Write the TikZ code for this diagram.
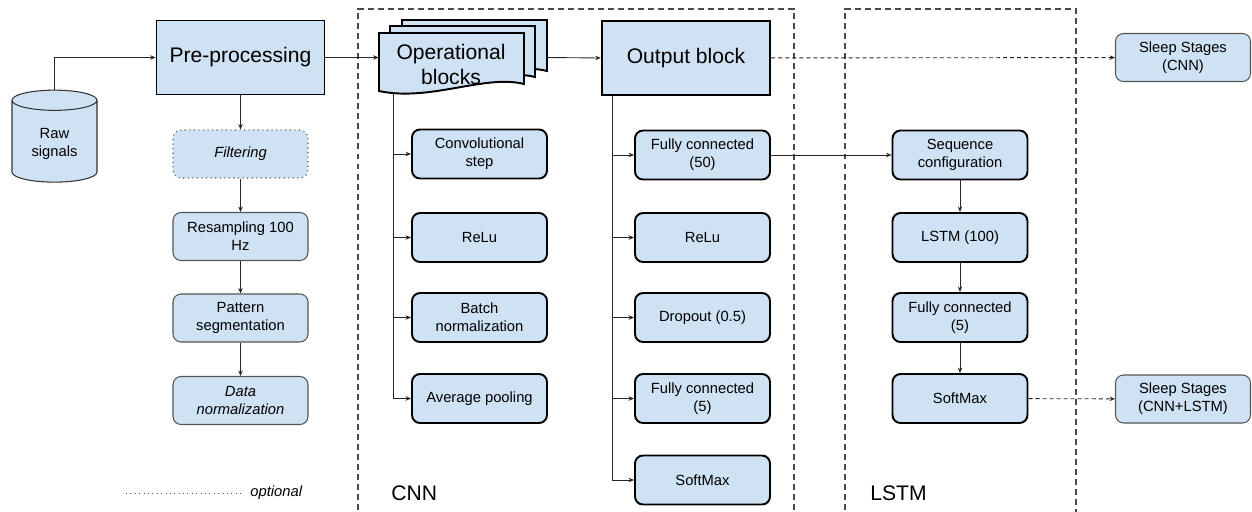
\documentclass[tikz,border=0pt]{standalone}
\usepackage{fontspec}
\setmainfont{Liberation Sans}
\usetikzlibrary{arrows.meta, calc, shapes.geometric}
\definecolor{boxblue}{HTML}{CFE2F3}
\definecolor{edgegray}{HTML}{555555}
\definecolor{framegray}{HTML}{4A4A4A}

\begin{document}
\begin{tikzpicture}[x=0.02cm, y=-0.02cm,
    every node/.style={font=\fontsize{8.4}{10.2}\selectfont, align=center},
    prep/.style={draw=edgegray, line width=0.6pt, fill=boxblue, rounded corners=0.16cm, minimum width=2.7cm, minimum height=0.96cm},
    layer/.style={draw=black, line width=1.1pt, fill=boxblue, rounded corners=0.16cm, minimum width=2.7cm, minimum height=0.98cm},
    big/.style={draw=black, fill=boxblue, font=\fontsize{12}{14.2}\selectfont, minimum width=3.37cm, minimum height=1.49cm},
    arrow/.style={-{Stealth[length=1.1mm, width=0.9mm]}, line width=0.5pt, draw=black!85},
    dasharrow/.style={arrow, dash pattern=on 2.3pt off 1.7pt},
    frame/.style={draw=framegray, line width=0.6pt, dash pattern=on 3.4pt off 2.3pt}]
  \useasboundingbox (0,0) rectangle (1252,511);

  % frames
  \draw[frame] (358,520) |- (794,9) -- (794,520);
  \draw[frame] (845,520) |- (1076,9) -- (1076,520);
  \node[font=\fontsize{12}{14.2}\selectfont, anchor=west, inner sep=0pt] (cnnlabel) at (391,493) {CNN};
  \node[font=\fontsize{12}{14.2}\selectfont, anchor=west, inner sep=0pt] (lstmlabel) at (870,493) {LSTM};

  % pre-processing
  \node[cylinder, shape border rotate=90, aspect=0.35, draw=black!80, line width=0.6pt, fill=boxblue, minimum width=1.7cm, minimum height=1.84cm] (raw) at (54.5,144) {Raw\\signals};
  \node[big, line width=0.7pt] (pre) at (240.5,57.5) {Pre-processing};
  \node[prep, dotted, font=\fontsize{8.4}{10.2}\selectfont\itshape] (filt) at (240.5,154) {Filtering};
  \node[prep] (resamp) at (240.5,236.5) {Resampling 100\\Hz};
  \node[prep] (pattern) at (240.5,318) {Pattern\\segmentation};
  \node[prep, font=\fontsize{8.4}{10.2}\selectfont\itshape] (datanorm) at (240.5,400.5) {Data\\normalization};

  \draw[arrow] (raw.north) |- (pre.west);
  \draw[arrow] (pre) -- (filt);
  \draw[arrow] (filt) -- (resamp);
  \draw[arrow] (resamp) -- (pattern);
  \draw[arrow] (pattern) -- (datanorm);

  % legend
  \coordinate (optstart) at (126,493);
  \node[font=\fontsize{8.4}{10.2}\selectfont\itshape, anchor=west, inner sep=0pt] (opt) at (250,493) {optional};
  \draw[draw=edgegray, line width=0.5pt, dotted] (optstart) -- ($(opt.west)+(-8,0)$);

  % operational blocks (stacked pages)
  \foreach \dx/\dy in {23/-13, 11/-7, 0/0}
    \draw[draw=black, line width=1.1pt, fill=boxblue, shift={(\dx,\dy)}]
      (379,33) -- (524,33) -- (524,84) .. controls (485,74) and (430,102) .. (379,91) -- cycle;
  \node[minimum width=3.36cm, minimum height=1.5cm, inner sep=0pt] (ops) at (463,57.5) {};
  \node[font=\fontsize{12}{14.2}\selectfont] (opstext) at (451,64) {Operational\\blocks};

  \node[layer] (conv) at (479.5,154) {Convolutional\\step};
  \node[layer] (relu1) at (479.5,237.5) {ReLu};
  \node[layer] (batch) at (479.5,317.5) {Batch\\normalization};
  \node[layer] (pool) at (479.5,398.5) {Average pooling};

  \draw[arrow] (pre.east) -- (ops.west);
  \draw[line width=0.5pt, draw=black!85] ($(ops.south west)+(15,-3)$) -- ($(ops.south west)+(15,0)$);
  \foreach \n in {conv, relu1, batch, pool}
    \draw[arrow] ($(ops.south west)+(15,-3)$) |- (\n.west);

  % output block
  \node[big, line width=1.1pt] (out) at (686,58) {Output block};
  \node[layer] (fc50) at (702.5,155) {Fully connected\\(50)};
  \node[layer] (relu2) at (702.5,237.5) {ReLu};
  \node[layer] (drop) at (702.5,317.5) {Dropout (0.5)};
  \node[layer] (fc5a) at (702.5,398.5) {Fully connected\\(5)};
  \node[layer] (soft1) at (702.5,480) {SoftMax};

  \draw[arrow] (ops.east) -- (out.west);
  \foreach \n in {fc50, relu2, drop, fc5a, soft1}
    \draw[arrow] ($(out.south west)+(12,0)$) |- (\n.west);

  % lstm
  \node[layer] (seq) at (960,155) {Sequence\\configuration};
  \node[layer] (lstm) at (960,237.5) {LSTM (100)};
  \node[layer] (fc5b) at (960,317.5) {Fully connected\\(5)};
  \node[layer] (soft2) at (960,398.5) {SoftMax};

  \draw[arrow] (fc50) -- (seq);
  \draw[arrow] (seq) -- (lstm);
  \draw[arrow] (lstm) -- (fc5b);
  \draw[arrow] (fc5b) -- (soft2);

  % outputs
  \node[prep] (sscnn) at (1183,57.5) {Sleep Stages\\(CNN)};
  \node[prep] (sslstm) at (1183,399) {Sleep Stages\\(CNN+LSTM)};
  \draw[dasharrow] (out) -- (sscnn);
  \draw[dasharrow] (soft2) -- (sslstm);
\end{tikzpicture}
\end{document}
